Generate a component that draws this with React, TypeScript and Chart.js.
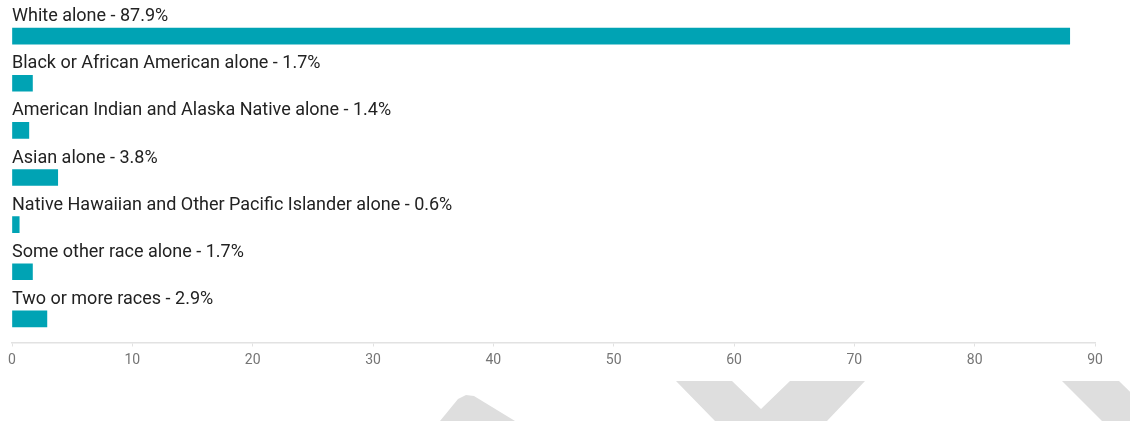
import React, { useEffect, useRef } from "react";
import { Chart, registerables } from "chart.js";

Chart.register(...registerables);

const categories: string[] = [
  "White alone",
  "Black or African American alone",
  "American Indian and Alaska Native alone",
  "Asian alone",
  "Native Hawaiian and Other Pacific Islander alone",
  "Some other race alone",
  "Two or more races",
];

const percentValues: number[] = [87.9, 1.7, 1.4, 3.8, 0.6, 1.7, 2.9];

const xTickValues: number[] = [0, 10, 20, 30, 40, 50, 60, 70, 80, 90];

const BAR_COLOR = "#00a3b4";
const LABEL_COLOR = "#222222";
const TICK_COLOR = "#757575";
const AXIS_COLOR = "#e2e2e2";
const WATERMARK_COLOR = "#dedede";

// Decorative background watermark shapes (not data)
const watermarkShapes: number[][][] = [
  [
    [440, 421],
    [458, 399],
    [466, 395],
    [474, 396],
    [515, 421],
  ],
  [
    [676, 381],
    [732, 381],
    [761, 409],
    [790, 381],
    [865, 381],
    [827, 421],
    [715, 421],
  ],
  [
    [1062, 381],
    [1119, 381],
    [1160, 421],
    [1102, 421],
  ],
];

const watermarkPlugin = {
  id: "watermark",
  beforeDraw(chart: any) {
    const ctx = chart.ctx;
    ctx.save();
    ctx.fillStyle = WATERMARK_COLOR;
    for (const shape of watermarkShapes) {
      ctx.beginPath();
      shape.forEach(([x, y], i) => (i === 0 ? ctx.moveTo(x, y) : ctx.lineTo(x, y)));
      ctx.closePath();
      ctx.fill();
    }
    ctx.restore();
  },
};

const barLabelPlugin = {
  id: "barLabels",
  afterDatasetsDraw(chart: any) {
    const ctx = chart.ctx;
    const meta = chart.getDatasetMeta(0);
    ctx.save();
    ctx.font = "18px Roboto";
    ctx.fillStyle = LABEL_COLOR;
    ctx.textAlign = "left";
    ctx.textBaseline = "alphabetic";
    meta.data.forEach((bar: any, i: number) => {
      const top = bar.y - bar.height / 2;
      const text = `${categories[i]} - ${percentValues[i].toFixed(1)}%`;
      ctx.fillText(text, chart.chartArea.left, top - 7);
    });
    ctx.restore();
  },
};

export default function App() {
  const canvasRef = useRef<HTMLCanvasElement | null>(null);

  useEffect(() => {
    if (!canvasRef.current) return;
    const chart = new Chart(canvasRef.current, {
      type: "bar",
      data: {
        labels: categories,
        datasets: [
          {
            data: percentValues,
            backgroundColor: BAR_COLOR,
            borderWidth: 0,
            barThickness: 16,
          },
        ],
      },
      options: {
        indexAxis: "y",
        animation: false,
        responsive: false,
        maintainAspectRatio: false,
        layout: { padding: { left: 12, right: 35, top: 12.5, bottom: 45.9 } },
        plugins: {
          legend: { display: false },
          tooltip: { enabled: false },
        },
        scales: {
          y: { display: false },
          x: {
            min: 0,
            max: 90,
            afterBuildTicks: (axis: any) => {
              axis.ticks = xTickValues.map((v) => ({ value: v }));
            },
            grid: {
              drawOnChartArea: false,
              drawTicks: true,
              tickLength: 4,
              color: AXIS_COLOR,
            },
            border: { display: true, color: AXIS_COLOR, width: 1.5 },
            ticks: {
              color: TICK_COLOR,
              padding: 5.9,
              maxRotation: 0,
              font: { family: "Roboto", size: 14 },
            },
          },
        },
      },
      plugins: [watermarkPlugin, barLabelPlugin],
    });
    return () => chart.destroy();
  }, []);

  return (
    <div style={{ position: "absolute", left: 0, top: 0, width: 1130, height: 421, background: "#ffffff" }}>
      <canvas ref={canvasRef} width={1130} height={421} />
    </div>
  );
}
